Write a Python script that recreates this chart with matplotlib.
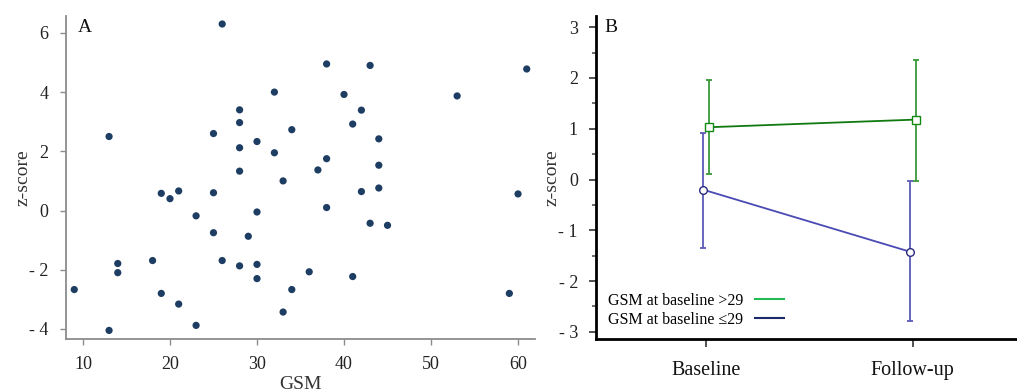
import matplotlib
matplotlib.use("Agg")
import matplotlib.pyplot as plt
import matplotlib.transforms as mtransforms
from matplotlib.lines import Line2D
from matplotlib.ticker import MultipleLocator

# ---- Panel A data ----
gsm = [26, 32, 13, 25, 28, 28, 30, 28, 32, 28, 19, 20, 21, 25,
       38, 43, 61, 40, 53, 42, 41, 34, 44, 38, 37, 44, 33, 42, 44, 60,
       23, 30, 25, 29, 14, 14, 18, 26, 28, 30, 30, 9, 19, 21, 23, 13,
       38, 43, 45, 36, 41, 34, 59, 33]
zscore_a = [6.3, 4.0, 2.5, 2.6, 3.4, 2.97, 2.33, 2.12, 1.95, 1.33, 0.58, 0.4, 0.66, 0.6,
            4.95, 4.9, 4.78, 3.92, 3.87, 3.39, 2.92, 2.73, 2.42, 1.75, 1.37, 1.53, 1.0, 0.64, 0.76, 0.56,
            -0.18, -0.05, -0.75, -0.87, -1.79, -2.1, -1.69, -1.69, -1.87, -1.82, -2.3, -2.67, -2.8, -3.16, -3.88, -4.05,
            0.1, -0.43, -0.5, -2.07, -2.23, -2.67, -2.8, -3.43]
a_xticks = [10, 20, 30, 40, 50, 60]
a_yticks = [-4, -2, 0, 2, 4, 6]
a_yticklabels = ["- 4", "- 2", "0", "2", "4", "6"]

# ---- Panel B data ----
timepoints = ["Baseline", "Follow-up"]
high_mean = [1.03, 1.18]
high_lower = [0.11, -0.02]
high_upper = [1.95, 2.35]
low_mean = [-0.2, -1.42]
low_lower = [-1.34, -2.78]
low_upper = [0.91, -0.03]
b_yticks = [-3, -2, -1, 0, 1, 2, 3]
b_yticklabels = ["- 3", "- 2", "- 1", "0", "1", "2", "3"]
legend_labels = ["GSM at baseline >29", "GSM at baseline \u226429"]

plt.rcParams['font.family'] = ['Liberation Serif', 'DejaVu Serif']

fig = plt.figure(figsize=(10.17, 3.92), dpi=100)

W, H = 1017, 392
axA = fig.add_axes([66 / W, (H - 339) / H, (535 - 66) / W, (339 - 16) / H])
axB = fig.add_axes([596 / W, (H - 339) / H, (1017 - 596) / W, (339 - 16) / H])

# ---- Panel A ----
axA.scatter(gsm, zscore_a, s=27, color="#1d3d63", edgecolors="none", zorder=3)
axA.set_xlim(8.05, 61.95)
axA.set_ylim(-4.34, 6.57)
axA.set_xticks(a_xticks)
axA.set_yticks(a_yticks)
axA.set_yticklabels(a_yticklabels)
for s in ["top", "right"]:
    axA.spines[s].set_visible(False)
for s in ["left", "bottom"]:
    axA.spines[s].set_color("#8c8c8c")
    axA.spines[s].set_linewidth(1.3)
axA.tick_params(axis="both", direction="out", length=4.5, width=1, color="#8c8c8c",
                labelsize=13, labelcolor="#222222", pad=8)
axA.set_xlabel("GSM", fontsize=14, color="#333333")
axA.xaxis.set_label_coords(0.5, -0.115)
axA.set_ylabel("z-score", fontsize=14, color="#333333", va="center")
axA.yaxis.set_label_coords(-0.092, 0.5)
axA.text(0.026, 0.99, "A", transform=axA.transAxes, fontsize=14, va="top", ha="left",
         color="#111111")

# ---- Panel B ----
xpos = list(range(len(timepoints)))
tr_right = mtransforms.offset_copy(axB.transData, fig=fig, x=3, y=0, units="dots")
tr_left = mtransforms.offset_copy(axB.transData, fig=fig, x=-3, y=0, units="dots")

h_err = [[m - lo for m, lo in zip(high_mean, high_lower)],
         [up - m for m, up in zip(high_mean, high_upper)]]
l_err = [[m - lo for m, lo in zip(low_mean, low_lower)],
         [up - m for m, up in zip(low_mean, low_upper)]]

axB.errorbar(xpos, low_mean, yerr=l_err, fmt="none", ecolor="#5a5ab8", elinewidth=1.3,
             capsize=2.3, capthick=1.3, transform=tr_left, zorder=2)
axB.plot(xpos, low_mean, color="#4a4ab4", lw=1.3, marker="o", markersize=5.5,
         markerfacecolor="white", markeredgecolor="#2a2a80", markeredgewidth=1,
         transform=tr_left, zorder=3)
axB.errorbar(xpos, high_mean, yerr=h_err, fmt="none", ecolor="#3a9a3a", elinewidth=1.3,
             capsize=2.3, capthick=1.3, transform=tr_right, zorder=2)
axB.plot(xpos, high_mean, color="#107a10", lw=1.3, marker="s", markersize=5.5,
         markerfacecolor="white", markeredgecolor="#108a10", markeredgewidth=1,
         transform=tr_right, zorder=3)

axB.set_xlim(-0.534, 1.505)
axB.set_ylim(-3.14, 3.22)
axB.set_xticks(xpos)
axB.set_xticklabels(timepoints)
axB.set_yticks(b_yticks)
axB.set_yticklabels(b_yticklabels)
axB.yaxis.set_minor_locator(MultipleLocator(0.5))
for s in ["top", "right"]:
    axB.spines[s].set_visible(False)
for s in ["left", "bottom"]:
    axB.spines[s].set_color("#000000")
    axB.spines[s].set_linewidth(2)
axB.tick_params(axis="y", which="major", direction="out", length=5, width=1.2,
                color="#333333", labelsize=13, labelcolor="#222222", pad=8)
axB.tick_params(axis="y", which="minor", direction="out", length=3, width=1.2,
                color="#555555")
axB.tick_params(axis="x", which="major", direction="out", length=6, width=1.2,
                color="#333333", labelsize=14.5, labelcolor="#111111", pad=10)
axB.set_ylabel("z-score", fontsize=14, color="#333333", va="center")
axB.yaxis.set_label_coords(-0.104, 0.5)
axB.text(0.02, 0.99, "B", transform=axB.transAxes, fontsize=14, va="top", ha="left",
         color="#111111")

handles = [Line2D([], [], color="#22bb55", lw=1.5),
           Line2D([], [], color="#1a2a6a", lw=1.5)]
axB.legend(handles, legend_labels, loc="upper left", bbox_to_anchor=(0.028, 0.143),
           frameon=False, markerfirst=False, fontsize=11.5, handlelength=1.8,
           handletextpad=0.75, borderpad=0, borderaxespad=0, labelspacing=0.2)

fig.savefig("out.png", dpi=100)
